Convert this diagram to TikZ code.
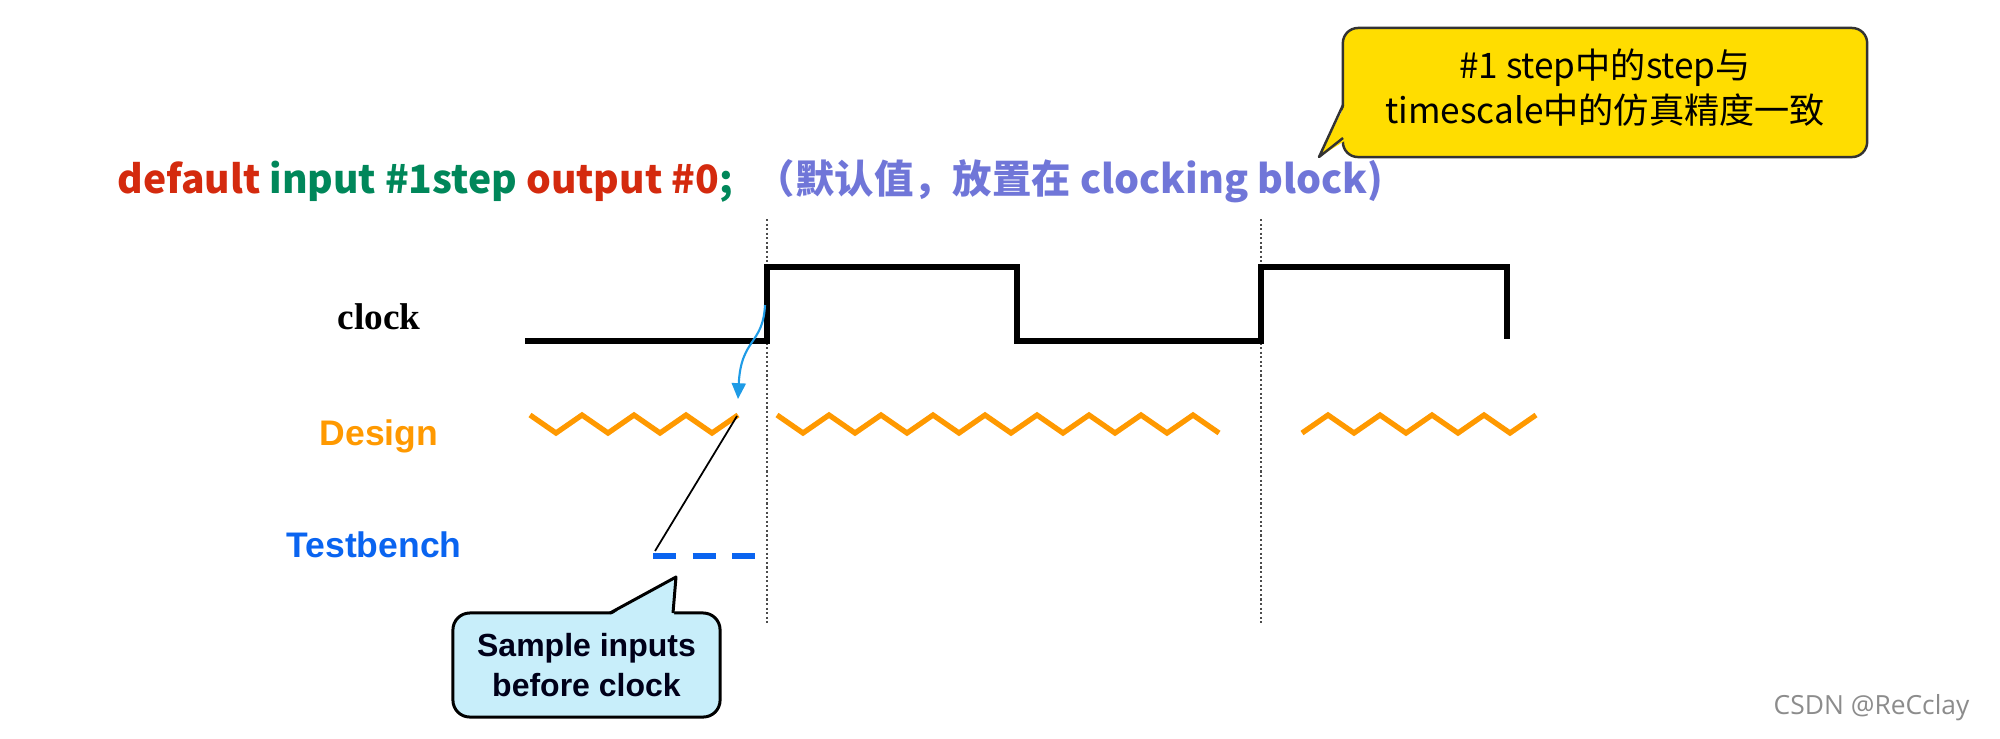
\documentclass[tikz,border=0pt]{standalone}
\usepackage{fontspec}
\setmainfont{Liberation Sans}
\newfontfamily\cjkfont{Noto Sans CJK SC}
\newfontfamily\timesfont{Liberation Serif}
\newfontfamily\markfont{Open Sans}
\usetikzlibrary{arrows.meta}

\definecolor{kwred}{RGB}{212,42,14}
\definecolor{kwgreen}{RGB}{0,135,90}
\definecolor{notepurple}{RGB}{112,118,216}
\definecolor{dsgnorange}{RGB}{255,153,0}
\definecolor{tbblue}{RGB}{10,100,240}
\definecolor{arrowblue}{RGB}{30,155,230}
\definecolor{calloutyellow}{RGB}{255,221,0}
\definecolor{calloutcyan}{RGB}{200,238,250}

\begin{document}
\begin{tikzpicture}[
    x=0.01cm, y=-0.01cm,
    >=Latex,
    % Styling for waveforms
    clk/.style={line width=1.45pt, black, line join=miter},
    dsgn/.style={line width=1.5pt, dsgnorange, line join=miter},
    tbdash/.style={line width=1.6pt, tbblue, dash pattern=on 6.5pt off 4.8pt},
    edgeline/.style={black!70, line width=0.6pt, dash pattern=on 0.6pt off 0.7pt},
    sampleptr/.style={arrowblue, line width=0.6pt, -{Triangle[length=4.5pt,width=4pt]}},
    % Styling for labels and callouts
    siglabel/.style={anchor=base, inner sep=0pt, font=\fontsize{10.1}{12}\selectfont\bfseries},
    headline/.style={inner sep=0pt, font=\cjkfont\bfseries\fontsize{11.1}{14}\selectfont},
    samplebox/.style={rectangle, rounded corners=4.8pt, draw=black, line width=0.85pt, fill=calloutcyan, minimum width=2.67cm, minimum height=1.04cm, align=center, inner sep=0pt, text=black!90!blue, font=\fontsize{9.1}{11.3}\selectfont\bfseries},
    stepbox/.style={rectangle, rounded corners=4.3pt, draw=black!80, line width=0.7pt, fill=calloutyellow, minimum width=5.24cm, minimum height=1.29cm, inner sep=0pt},
    steptext/.style={align=center, inner sep=0pt, font=\cjkfont\fontsize{10}{12.8}\selectfont}
]
    \useasboundingbox (0,0) rectangle (2000,738);

    % Header line
    \node[headline, anchor=base west] (cmd) at (117,193) {\textcolor{kwred}{default} \textcolor{kwgreen}{input \#1step} \textcolor{kwred}{output \#0}\textcolor{kwgreen}{;}};
    \node[headline, anchor=base east, text=notepurple, font=\cjkfont\bfseries\fontsize{11.2}{14}\selectfont] (cmt) at (1384,193) {（默认值，放置在 clocking block)};

    % Signal names
    \node[siglabel, font=\timesfont\bfseries\fontsize{10.6}{12}\selectfont] (clklbl) at (379,329) {clock};
    \node[siglabel, text=dsgnorange] (dsgnlbl) at (379,445) {Design};
    \node[siglabel, text=tbblue] (tblbl) at (374,557) {Testbench};

    % Clock edges (dotted)
    \draw[edgeline] (767,219) -- (767,625);
    \draw[edgeline] (1261,219) -- (1261,625);

    % Clock waveform
    \draw[clk] (525,341) -- (767,341) -- (767,267) -- (1017,267) -- (1017,341)
        -- (1261,341) -- (1261,267) -- (1507,267) -- (1507,339);

    % Design waveform (zigzag segments: start x / half periods / phase)
    \foreach \xs/\n/\ph in {530/8/0, 777/17/0, 1302/9/1} {
        \draw[dsgn] (\xs,{424-9*cos(180*\ph)})
            \foreach \i [evaluate=\i as \yy using 424-9*cos(180*(\i+\ph))] in {1,...,\n} { -- (\xs+26*\i,\yy) };
    }

    % Testbench sample
    \coordinate (tbstart) at (653,556);
    \coordinate (tbend) at (756,556);
    \draw[tbdash] (tbstart) -- (tbend);

    % Sample point pointers
    \coordinate (clkedge) at (765,305);
    \coordinate (dsgnend) at (737,416);
    \coordinate (dsgntop) at (738,399);
    \coordinate (tbtop) at (655,551);
    \draw[sampleptr] (clkedge) .. controls (763,345) and (741,338) .. (dsgntop);
    \draw[line width=0.5pt] (dsgnend) -- (tbtop);

    % Callout: sample inputs
    \node[samplebox] (sample) at (586.5,665) {Sample inputs\\before clock};
    \coordinate (sampletip) at (676,577);
    \fill[calloutcyan] (609,616) -- (sampletip) -- (674,616) -- cycle;
    \draw[line width=0.85pt, line join=round] (610,613) -- (sampletip) -- (673,613);

    % Callout: step note
    \node[stepbox] (stepnote) at (1605,92.5) {};
    \node[steptext] (steptxt) at (1605,88) {\#1 step中的step与\\timescale中的仿真精度一致};
    \coordinate (steptip) at (1319,157);
    \fill[calloutyellow] (1346,103) -- (steptip) -- (1346,140) -- cycle;
    \draw[black!80, line width=0.7pt, line join=round] (1343,105) -- (steptip) -- (1343,138);

    % Watermark
    \node[anchor=base west, inner sep=0pt, text=black!45, font=\markfont\fontsize{7.5}{9}\selectfont] (mark) at (1773,714) {CSDN @ReCclay};
\end{tikzpicture}
\end{document}
